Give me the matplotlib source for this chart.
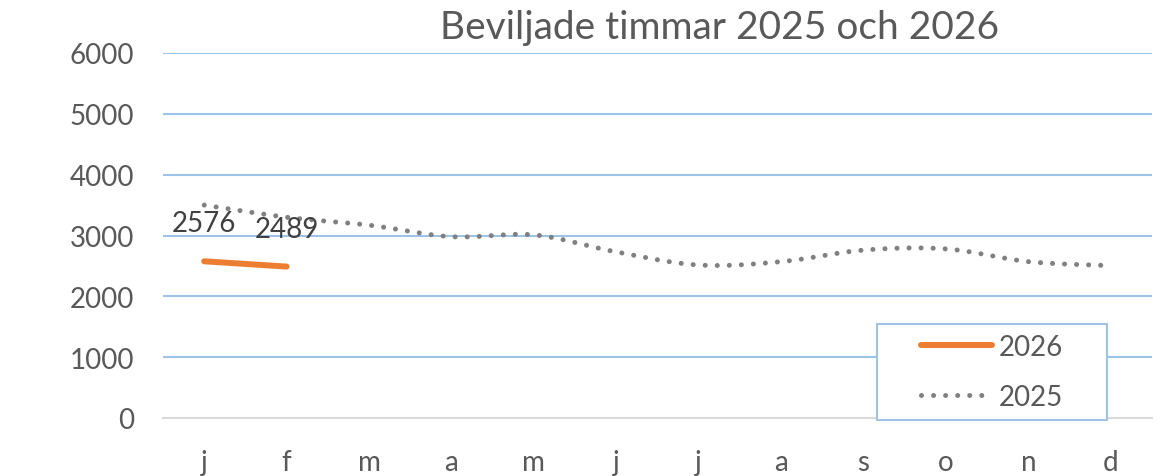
import numpy as np
import matplotlib
matplotlib.use("Agg")
import matplotlib.pyplot as plt
from matplotlib.patches import Rectangle

plt.rcParams['font.family'] = ['Lato', 'DejaVu Sans']

months = ['j', 'f', 'm', 'a', 'm', 'j', 'j', 'a', 's', 'o', 'n', 'd']
values_2025 = [3500, 3300, 3170, 2980, 3010, 2730, 2515, 2570, 2760, 2780, 2570, 2505]
values_2026 = [2576, 2489]
labels_2026 = ['2576', '2489']
yticks = [0, 1000, 2000, 3000, 4000, 5000, 6000]


def smooth(x, y, n=30):
    # Excel-like smoothed line: Bezier through points with Catmull-Rom controls
    x = np.asarray(x, float)
    y = np.asarray(y, float)
    pts = np.column_stack([x, y])
    out = []
    for i in range(len(pts) - 1):
        p0 = pts[i - 1] if i > 0 else pts[i]
        p1 = pts[i]
        p2 = pts[i + 1]
        p3 = pts[i + 2] if i + 2 < len(pts) else pts[i + 1]
        c1 = p1 + (p2 - p0) / 6.0
        c2 = p2 - (p3 - p1) / 6.0
        t = np.linspace(0, 1, n)[:, None]
        seg = ((1 - t) ** 3) * p1 + 3 * ((1 - t) ** 2) * t * c1 + 3 * (1 - t) * t ** 2 * c2 + t ** 3 * p2
        if i > 0:
            seg = seg[1:]
        out.append(seg)
    out = np.vstack(out)
    return out[:, 0], out[:, 1]


fig = plt.figure(figsize=(11.65, 4.77), dpi=100)
ax = fig.add_axes([163 / 1165, 1 - 419 / 477, 989 / 1165, 365 / 477])

x25 = np.arange(len(months))
sx, sy = smooth(x25, values_2025)
grey = '#808080'
orange = '#ED7D31'
l25, = ax.plot(sx, sy, color=grey, lw=3.6, linestyle=(0, (0.01, 2.4)),
               dash_capstyle='round', label='2025', zorder=3)
x26 = np.arange(len(values_2026))
l26, = ax.plot(x26, values_2026, color=orange, lw=4.3, solid_capstyle='round',
               label='2026', zorder=4)

for xi, yi, lab in zip(x26, values_2026, labels_2026):
    ax.annotate(lab, (xi, yi), xytext=(0, 18), textcoords='offset points',
                ha='center', va='bottom', fontsize=20, color='#404040', zorder=5)

ax.set_xlim(-0.5, len(months) - 0.5)
ax.set_ylim(0, 6000)
ax.set_yticks(yticks)
ax.set_yticklabels([str(v) for v in yticks])
ax.set_xticks(x25)
ax.set_xticklabels(months)
ax.tick_params(axis='both', length=0, labelsize=20, colors='#595959')
ax.tick_params(axis='y', pad=21)
ax.tick_params(axis='x', pad=22)

for v in yticks[1:]:
    ax.axhline(v, color='#9DC3E6', lw=1.5, zorder=1)
for s in ['top', 'right', 'left']:
    ax.spines[s].set_visible(False)
ax.spines['bottom'].set_color('#D9D9D9')
ax.spines['bottom'].set_linewidth(1.5)

fig.text(720 / 1165, 1 - 28 / 477, 'Beviljade timmar 2025 och 2026', ha='center', va='center',
         fontsize=28, color='#595959')

# legend box
lx0, ly0, lw_, lh_ = 877 / 1165, 1 - 421 / 477, 230 / 1165, 96 / 477
fig.patches.append(Rectangle((lx0, ly0), lw_, lh_, transform=fig.transFigure,
                             facecolor='white', edgecolor='#9DC3E6', lw=1.5, zorder=10))
leg = fig.legend(handles=[l26, l25], labels=['2026', '2025'], loc='center',
                 bbox_to_anchor=(lx0, ly0, lw_, lh_), frameon=False, fontsize=20,
                 handlelength=2.55, handletextpad=0.25, labelspacing=0.85,
                 labelcolor='#595959')
leg.set_zorder(11)

fig.savefig('out.png', dpi=100)
